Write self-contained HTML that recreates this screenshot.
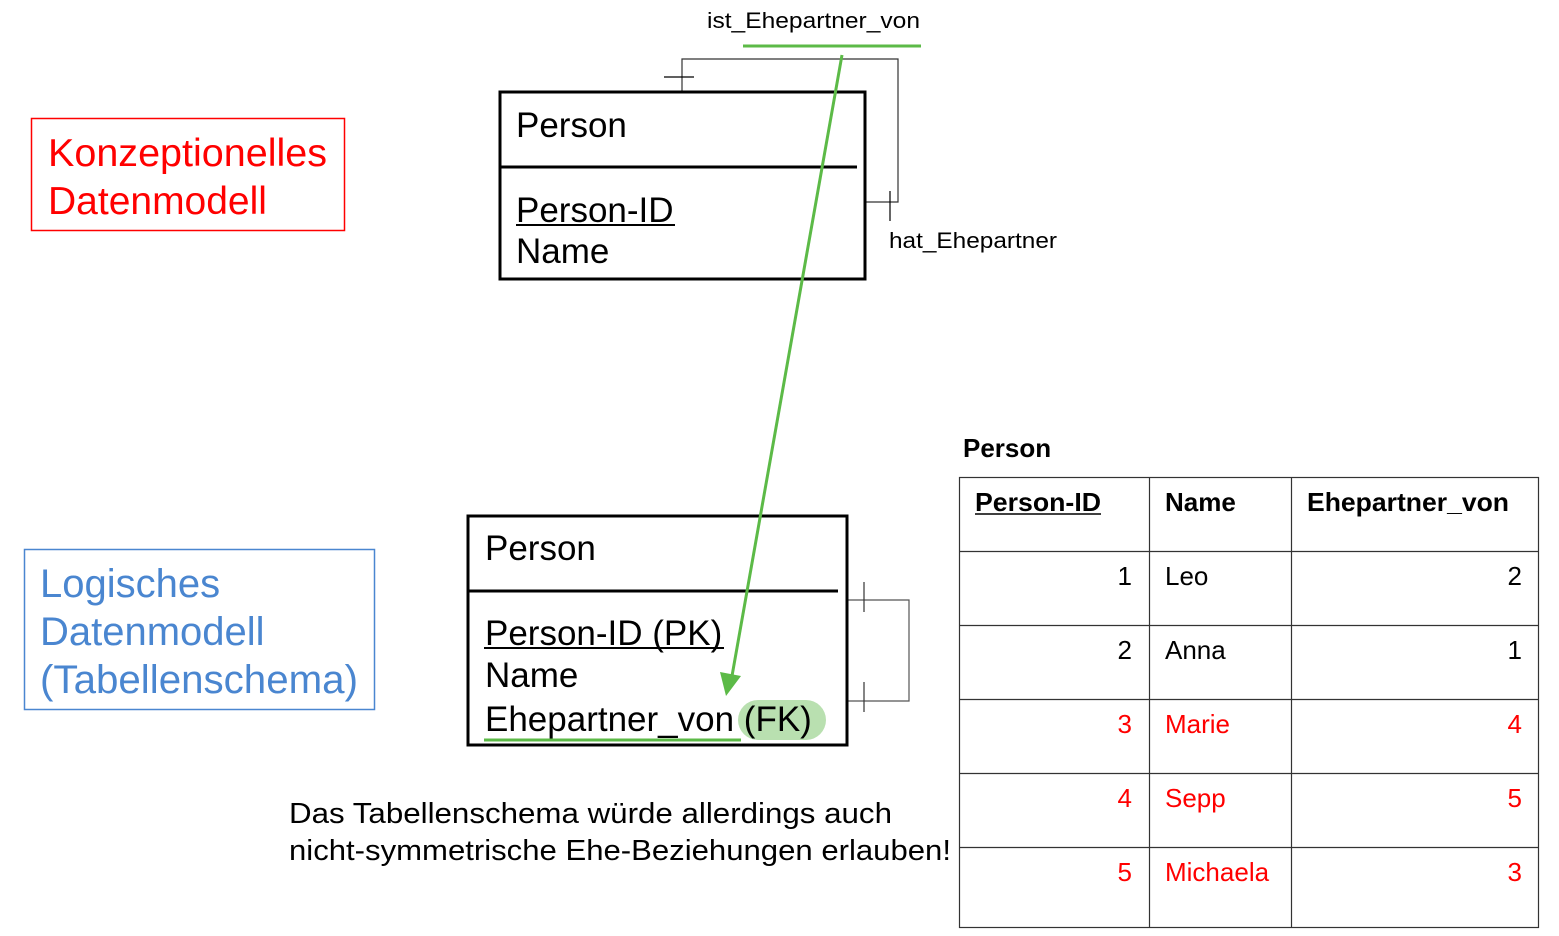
<!DOCTYPE html>
<html><head><meta charset="utf-8"><style>
html,body{margin:0;padding:0;background:#fff;}
svg{display:block;font-family:"Liberation Sans",Arial,sans-serif;}
</style></head><body>
<svg width="1559" height="936" viewBox="0 0 1559 936" xmlns="http://www.w3.org/2000/svg">
<rect x="31.5" y="118.5" width="313" height="112" fill="none" stroke="#f00" stroke-width="1.5"/>
<text x="48" y="166" font-size="39" fill="#f00" textLength="279" lengthAdjust="spacingAndGlyphs">Konzeptionelles</text>
<text x="48" y="214" font-size="39" fill="#f00">Datenmodell</text>
<rect x="24.5" y="549.5" width="350" height="160" fill="none" stroke="#4a86d0" stroke-width="1.5"/>
<text x="40" y="597" font-size="40" fill="#4a86d0">Logisches</text>
<text x="40" y="645" font-size="40" fill="#4a86d0">Datenmodell</text>
<text x="40" y="693" font-size="40" fill="#4a86d0" textLength="318" lengthAdjust="spacingAndGlyphs">(Tabellenschema)</text>

<polyline points="682,92 682,59 898,59 898,202 865,202" fill="none" stroke="#333" stroke-width="1.2"/>
<line x1="664" y1="77" x2="694" y2="77" stroke="#000" stroke-width="1.2"/>
<line x1="890" y1="191" x2="890" y2="221" stroke="#000" stroke-width="1.2"/>
<rect x="500" y="92" width="365" height="187" fill="none" stroke="#000" stroke-width="3"/>
<line x1="500" y1="167" x2="857" y2="167" stroke="#000" stroke-width="3"/>
<text x="516" y="137" font-size="35">Person</text>
<text x="516" y="222" font-size="35">Person-ID</text>
<line x1="516" y1="225" x2="675" y2="225" stroke="#000" stroke-width="2"/>
<text x="516" y="263" font-size="35">Name</text>
<text x="707" y="28" font-size="22" textLength="213" lengthAdjust="spacingAndGlyphs">ist_Ehepartner_von</text>
<line x1="743" y1="46" x2="921" y2="46" stroke="#5cba47" stroke-width="3"/>
<text x="889" y="248" font-size="22" textLength="168" lengthAdjust="spacingAndGlyphs">hat_Ehepartner</text>

<polyline points="847,600 909,600 909,701 847,701" fill="none" stroke="#555" stroke-width="1.2"/>
<line x1="864" y1="582" x2="864" y2="612" stroke="#333" stroke-width="1.2"/>
<line x1="864" y1="682" x2="864" y2="712" stroke="#333" stroke-width="1.2"/>
<rect x="738" y="700" width="88" height="40" rx="20" fill="#b9e0b0"/>
<rect x="468" y="516" width="379" height="229" fill="none" stroke="#000" stroke-width="3"/>
<line x1="468" y1="591" x2="838" y2="591" stroke="#000" stroke-width="3"/>
<text x="485" y="560" font-size="35">Person</text>
<text x="485" y="645" font-size="35">Person-ID (PK)</text>
<line x1="484" y1="648" x2="724" y2="648" stroke="#000" stroke-width="2"/>
<text x="485" y="687" font-size="35">Name</text>
<text x="485" y="731" font-size="35">Ehepartner_von (FK)</text>
<line x1="484" y1="740" x2="741" y2="740" stroke="#5cba47" stroke-width="3"/>

<line x1="842" y1="55" x2="732" y2="676" stroke="#5cba47" stroke-width="3"/>
<polygon points="726,696 720,672 741,676" fill="#5cba47"/>

<text x="289" y="823" font-size="29" textLength="603" lengthAdjust="spacingAndGlyphs">Das Tabellenschema würde allerdings auch</text>
<text x="289" y="860" font-size="29" textLength="662" lengthAdjust="spacingAndGlyphs">nicht-symmetrische Ehe-Beziehungen erlauben!</text>

<text x="963" y="457" font-size="26" font-weight="bold">Person</text>
<g stroke="#333" stroke-width="1.2" fill="none">
<rect x="959.5" y="477.5" width="579" height="450"/>
<line x1="1149.5" y1="477" x2="1149.5" y2="927"/>
<line x1="1291.5" y1="477" x2="1291.5" y2="927"/>
<line x1="959" y1="551.5" x2="1539" y2="551.5"/>
<line x1="959" y1="625.5" x2="1539" y2="625.5"/>
<line x1="959" y1="699.5" x2="1539" y2="699.5"/>
<line x1="959" y1="773.5" x2="1539" y2="773.5"/>
<line x1="959" y1="847.5" x2="1539" y2="847.5"/>
</g>
<g font-size="26" font-weight="bold">
<text x="975" y="511" textLength="126" lengthAdjust="spacingAndGlyphs">Person-ID</text>
<line x1="975" y1="514" x2="1101" y2="514" stroke="#000" stroke-width="1.5"/>
<text x="1165" y="511">Name</text>
<text x="1307" y="511" textLength="202" lengthAdjust="spacingAndGlyphs">Ehepartner_von</text>
</g>
<g font-size="26">
<text x="1132" y="585" text-anchor="end">1</text><text x="1165" y="585">Leo</text><text x="1522" y="585" text-anchor="end">2</text>
<text x="1132" y="659" text-anchor="end">2</text><text x="1165" y="659">Anna</text><text x="1522" y="659" text-anchor="end">1</text>
<g fill="#f00">
<text x="1132" y="733" text-anchor="end">3</text><text x="1165" y="733">Marie</text><text x="1522" y="733" text-anchor="end">4</text>
<text x="1132" y="807" text-anchor="end">4</text><text x="1165" y="807">Sepp</text><text x="1522" y="807" text-anchor="end">5</text>
<text x="1132" y="881" text-anchor="end">5</text><text x="1165" y="881">Michaela</text><text x="1522" y="881" text-anchor="end">3</text>
</g>
</g>
</svg>
</body></html>
